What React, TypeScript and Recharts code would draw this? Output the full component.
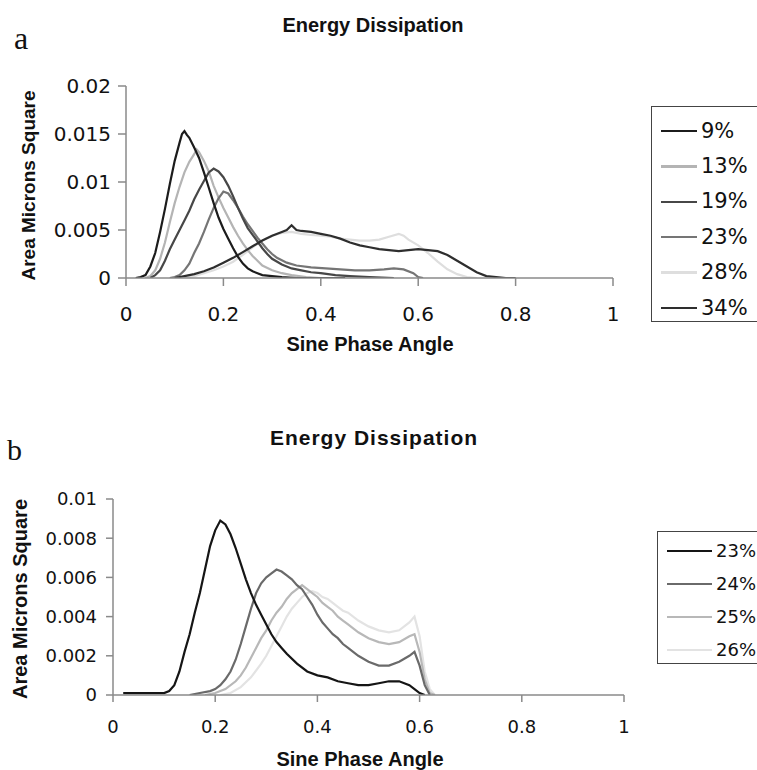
import React from 'react'
import { LineChart, Line, XAxis, YAxis } from 'recharts'

type Pt = [number, number]

// ---- panel a ----
const titleA = 'Energy Dissipation'
const xTicks = [0, 0.2, 0.4, 0.6, 0.8, 1]
const yTicksA = [0, 0.005, 0.01, 0.015, 0.02]

const a09: Pt[] = [
  [0.02, 0], [0.03, 0.0001], [0.04, 0.0003], [0.05, 0.0012], [0.06, 0.0026], [0.07, 0.0048],
  [0.08, 0.0072], [0.09, 0.0098], [0.10, 0.0122], [0.11, 0.0141], [0.115, 0.0150], [0.12, 0.0153],
  [0.125, 0.0149], [0.13, 0.0146], [0.14, 0.0136], [0.15, 0.0125], [0.16, 0.0110], [0.17, 0.0094],
  [0.18, 0.0078], [0.19, 0.0063], [0.20, 0.0051], [0.21, 0.0041], [0.22, 0.0031], [0.23, 0.0022],
  [0.24, 0.0015], [0.25, 0.0010], [0.26, 0.0007], [0.27, 0.0005], [0.28, 0.0003], [0.30, 0.0002],
  [0.32, 0.0001], [0.35, 0], [0.45, 0],
]
const a13: Pt[] = [
  [0.04, 0], [0.05, 0.0002], [0.06, 0.0008], [0.07, 0.0020], [0.08, 0.0037], [0.09, 0.0058],
  [0.10, 0.0078], [0.11, 0.0095], [0.12, 0.0110], [0.13, 0.0121], [0.14, 0.0129], [0.145, 0.0134],
  [0.15, 0.0131], [0.16, 0.0122], [0.17, 0.0111], [0.18, 0.0096], [0.19, 0.0084], [0.20, 0.0073],
  [0.21, 0.0063], [0.22, 0.0053], [0.23, 0.0044], [0.24, 0.0036], [0.25, 0.0029], [0.26, 0.0023],
  [0.27, 0.0018], [0.28, 0.0013], [0.30, 0.0008], [0.32, 0.0005], [0.34, 0.0003], [0.37, 0.0001],
  [0.40, 0],
]
const a19: Pt[] = [
  [0.05, 0], [0.06, 0.0003], [0.07, 0.0008], [0.08, 0.0018], [0.09, 0.0030], [0.10, 0.0040],
  [0.11, 0.0050], [0.12, 0.0060], [0.13, 0.0070], [0.14, 0.0082], [0.15, 0.0092], [0.16, 0.0101],
  [0.17, 0.0110], [0.18, 0.0114], [0.19, 0.0111], [0.20, 0.0105], [0.21, 0.0096], [0.22, 0.0085],
  [0.23, 0.0073], [0.24, 0.0062], [0.25, 0.0052], [0.26, 0.0045], [0.27, 0.0038], [0.28, 0.0031],
  [0.29, 0.0025], [0.30, 0.0020], [0.32, 0.0014], [0.34, 0.0010], [0.36, 0.0008], [0.38, 0.0006],
  [0.40, 0.0005], [0.43, 0.0003], [0.46, 0.0002], [0.50, 0.0001], [0.55, 0],
]
const a23: Pt[] = [
  [0.09, 0], [0.10, 0.0001], [0.11, 0.0003], [0.12, 0.0008], [0.13, 0.0015], [0.14, 0.0026],
  [0.15, 0.0036], [0.16, 0.0048], [0.17, 0.0061], [0.18, 0.0073], [0.19, 0.0083], [0.20, 0.0090],
  [0.21, 0.0088], [0.22, 0.0081], [0.23, 0.0073], [0.24, 0.0064], [0.25, 0.0056], [0.26, 0.0049],
  [0.27, 0.0042], [0.28, 0.0036], [0.29, 0.0030], [0.30, 0.0025], [0.31, 0.0021], [0.33, 0.0016],
  [0.35, 0.0013], [0.38, 0.0011], [0.41, 0.0010], [0.44, 0.0009], [0.47, 0.0008], [0.50, 0.0008],
  [0.53, 0.0009], [0.55, 0.0010], [0.57, 0.0009], [0.59, 0.0005], [0.60, 0.0001], [0.61, 0],
]
const a28: Pt[] = [
  [0.12, 0], [0.14, 0.0002], [0.16, 0.0005], [0.18, 0.0008], [0.20, 0.0012], [0.22, 0.0017],
  [0.24, 0.0024], [0.26, 0.0032], [0.28, 0.0039], [0.30, 0.0044], [0.32, 0.0047], [0.34, 0.0048],
  [0.36, 0.0046], [0.38, 0.0045], [0.40, 0.0044], [0.42, 0.0043], [0.44, 0.0041], [0.46, 0.0040],
  [0.48, 0.0039], [0.50, 0.0039], [0.52, 0.0040], [0.54, 0.0043], [0.56, 0.0046], [0.57, 0.0044],
  [0.58, 0.0040], [0.60, 0.0034], [0.62, 0.0026], [0.64, 0.0017], [0.66, 0.0009], [0.68, 0.0004],
  [0.70, 0.0001], [0.72, 0],
]
const a34: Pt[] = [
  [0.10, 0], [0.12, 0.0002], [0.14, 0.0004], [0.16, 0.0007], [0.18, 0.0011], [0.20, 0.0016],
  [0.22, 0.0021], [0.24, 0.0027], [0.26, 0.0033], [0.28, 0.0039], [0.30, 0.0044], [0.32, 0.0048],
  [0.33, 0.0050], [0.34, 0.0055], [0.35, 0.0050], [0.36, 0.0049], [0.38, 0.0048], [0.40, 0.0046],
  [0.42, 0.0044], [0.44, 0.0041], [0.46, 0.0037], [0.48, 0.0034], [0.50, 0.0032], [0.52, 0.0030],
  [0.54, 0.0029], [0.56, 0.0028], [0.58, 0.0029], [0.60, 0.0030], [0.62, 0.0029], [0.64, 0.0028],
  [0.66, 0.0024], [0.68, 0.0018], [0.70, 0.0012], [0.72, 0.0006], [0.74, 0.0002], [0.76, 0.0001],
  [0.78, 0], [0.80, 0],
]

// ---- panel b ----
const titleB = 'Energy Dissipation'
const yTicksB = [0, 0.002, 0.004, 0.006, 0.008, 0.01]

const b23: Pt[] = [
  [0.02, 0.0001], [0.05, 0.0001], [0.08, 0.0001], [0.10, 0.0001], [0.11, 0.0002], [0.12, 0.0005],
  [0.13, 0.0012], [0.14, 0.0022], [0.15, 0.0031], [0.16, 0.0042], [0.17, 0.0052], [0.18, 0.0064],
  [0.19, 0.0076], [0.20, 0.0084], [0.21, 0.0089], [0.22, 0.0087], [0.23, 0.0082], [0.24, 0.0075],
  [0.25, 0.0067], [0.26, 0.0059], [0.27, 0.0052], [0.28, 0.0046], [0.29, 0.0041], [0.30, 0.0036],
  [0.31, 0.0031], [0.32, 0.0027], [0.33, 0.0024], [0.34, 0.0021], [0.36, 0.0016], [0.38, 0.0012],
  [0.40, 0.0010], [0.42, 0.0009], [0.44, 0.0007], [0.46, 0.0006], [0.48, 0.0005], [0.50, 0.0005],
  [0.52, 0.0006], [0.54, 0.0007], [0.56, 0.0007], [0.58, 0.0005], [0.59, 0.0003], [0.60, 0.0001],
  [0.61, 0],
]
const b24: Pt[] = [
  [0.15, 0], [0.17, 0.0001], [0.19, 0.0002], [0.20, 0.0003], [0.21, 0.0005], [0.22, 0.0008],
  [0.23, 0.0012], [0.24, 0.0018], [0.25, 0.0026], [0.26, 0.0035], [0.27, 0.0044], [0.28, 0.0052],
  [0.29, 0.0057], [0.30, 0.0060], [0.31, 0.0062], [0.32, 0.0064], [0.33, 0.0063], [0.34, 0.0061],
  [0.35, 0.0059], [0.36, 0.0056], [0.37, 0.0054], [0.38, 0.0050], [0.39, 0.0046], [0.40, 0.0041],
  [0.41, 0.0037], [0.42, 0.0034], [0.43, 0.0031], [0.44, 0.0029], [0.45, 0.0026], [0.46, 0.0024],
  [0.48, 0.0020], [0.50, 0.0017], [0.52, 0.0015], [0.54, 0.0015], [0.56, 0.0017], [0.58, 0.0020],
  [0.59, 0.0022], [0.60, 0.0015], [0.61, 0.0005], [0.62, 0],
]
const b25: Pt[] = [
  [0.18, 0], [0.20, 0.0001], [0.22, 0.0003], [0.24, 0.0007], [0.25, 0.0010], [0.26, 0.0014],
  [0.27, 0.0019], [0.28, 0.0024], [0.29, 0.0029], [0.30, 0.0033], [0.31, 0.0038], [0.32, 0.0042],
  [0.33, 0.0045], [0.34, 0.0049], [0.35, 0.0052], [0.36, 0.0054], [0.37, 0.0056], [0.38, 0.0054],
  [0.39, 0.0052], [0.40, 0.0050], [0.41, 0.0047], [0.42, 0.0045], [0.43, 0.0043], [0.44, 0.0040],
  [0.45, 0.0038], [0.46, 0.0036], [0.48, 0.0032], [0.50, 0.0029], [0.52, 0.0027], [0.54, 0.0026],
  [0.56, 0.0027], [0.58, 0.0030], [0.59, 0.0031], [0.60, 0.0022], [0.61, 0.0008], [0.62, 0.0001],
  [0.63, 0],
]
const b26: Pt[] = [
  [0.21, 0], [0.23, 0.0001], [0.25, 0.0004], [0.27, 0.0009], [0.29, 0.0016], [0.30, 0.0020],
  [0.31, 0.0025], [0.32, 0.0030], [0.33, 0.0035], [0.34, 0.0040], [0.35, 0.0044], [0.36, 0.0047],
  [0.37, 0.0050], [0.38, 0.0052], [0.39, 0.0053], [0.40, 0.0052], [0.41, 0.0050], [0.42, 0.0049],
  [0.43, 0.0047], [0.44, 0.0045], [0.45, 0.0043], [0.46, 0.0042], [0.48, 0.0038], [0.50, 0.0035],
  [0.52, 0.0033], [0.54, 0.0032], [0.56, 0.0033], [0.58, 0.0037], [0.59, 0.0040], [0.60, 0.0030],
  [0.61, 0.0012], [0.62, 0.0003], [0.63, 0],
]

type Serie = { name: string; color: string; pts: Pt[]; z: number }

// z = drawing order (lighter ones drawn first)
const seriesA: Serie[] = [
  { name: '9%', color: '#1c1c1c', pts: a09, z: 5 },
  { name: '13%', color: '#b4b4b4', pts: a13, z: 1 },
  { name: '19%', color: '#474747', pts: a19, z: 3 },
  { name: '23%', color: '#757575', pts: a23, z: 2 },
  { name: '28%', color: '#dedede', pts: a28, z: 0 },
  { name: '34%', color: '#2e2e2e', pts: a34, z: 4 },
]
const seriesB: Serie[] = [
  { name: '23%', color: '#151515', pts: b23, z: 3 },
  { name: '24%', color: '#6a6a6a', pts: b24, z: 2 },
  { name: '25%', color: '#b8b8b8', pts: b25, z: 1 },
  { name: '26%', color: '#e3e3e3', pts: b26, z: 0 },
]

const TICK_FONT = '"DejaVu Sans", sans-serif'
const HEAD_FONT = '"Liberation Sans", Arial, sans-serif'
const AXIS = '#8a8a8a'

const toRows = (pts: Pt[]) => pts.map(([x, y]) => ({ x, y }))

type PanelProps = {
  top: number
  height: number
  margin: { top: number; right: number; bottom: number; left: number }
  yTicks: number[]
  yMax: number
  series: Serie[]
  fontSize: number
  tickSize: number
  yTickMargin: number
  xTickMargin: number
}

function Panel(p: PanelProps) {
  const ordered = [...p.series].sort((a, b) => a.z - b.z)
  return (
    <div style={{ position: 'absolute', left: 0, top: p.top }}>
      <LineChart width={757} height={p.height} margin={p.margin}>
        <XAxis
          type="number"
          dataKey="x"
          domain={[0, 1]}
          ticks={xTicks}
          interval={0}
          allowDataOverflow
          height={30}
          stroke={AXIS}
          strokeWidth={1.5}
          tickSize={p.tickSize}
          tickMargin={p.xTickMargin}
          tick={{ fill: '#111', fontSize: p.fontSize, fontFamily: TICK_FONT }}
        />
        <YAxis
          type="number"
          domain={[0, p.yMax]}
          ticks={p.yTicks}
          interval={0}
          allowDataOverflow
          width={70}
          stroke={AXIS}
          strokeWidth={1.5}
          tickSize={p.tickSize}
          tickMargin={p.yTickMargin}
          tickFormatter={(v: number) => String(v)}
          tick={{ fill: '#111', fontSize: p.fontSize, fontFamily: TICK_FONT }}
        />
        {ordered.map(s => (
          <Line
            key={s.name}
            data={toRows(s.pts)}
            dataKey="y"
            name={s.name}
            type="linear"
            stroke={s.color}
            strokeWidth={2.2}
            dot={false}
            activeDot={false}
            isAnimationActive={false}
          />
        ))}
      </LineChart>
    </div>
  )
}

function LegendBox({ series, left, top, width, height, rowH, firstY, lineW, fontSize }: {
  series: Serie[]; left: number; top: number; width: number; height: number
  rowH: number; firstY: number; lineW: number; fontSize: number
}) {
  return (
    <div style={{
      position: 'absolute', left, top, width, height, boxSizing: 'border-box',
      border: '1.5px solid #444', background: '#fff',
    }}>
      {series.map((s, i) => (
        <div key={s.name} style={{
          position: 'absolute', left: 9, top: firstY + i * rowH - fontSize / 2,
          height: fontSize, display: 'flex', alignItems: 'center',
          fontFamily: TICK_FONT, fontSize, lineHeight: 1, color: '#111', whiteSpace: 'nowrap',
        }}>
          <span style={{ display: 'inline-block', width: lineW, height: 2.5, background: s.color, marginRight: 4 }} />
          {s.name}
        </div>
      ))}
    </div>
  )
}

const abs = (s: React.CSSProperties): React.CSSProperties => ({ position: 'absolute', whiteSpace: 'nowrap', lineHeight: 1, ...s })

export default function App() {
  return (
    <div style={{ position: 'absolute', left: 0, top: 0, width: 757, height: 770, background: '#fff', overflow: 'hidden' }}>
      {/* panel a */}
      <div style={abs({ left: 14, top: 22, fontFamily: '"Liberation Serif", serif', fontSize: 32, color: '#111' })}>a</div>
      <div style={abs({ left: 223, width: 300, top: 15, textAlign: 'center', fontFamily: HEAD_FONT, fontWeight: 700, fontSize: 20, color: '#111' })}>
        {titleA}
      </div>
      <Panel
        top={0}
        height={360}
        margin={{ top: 86, right: 144, bottom: 52, left: 56 }}
        yTicks={yTicksA}
        yMax={0.02}
        series={seriesA}
        fontSize={20}
        tickSize={8}
        yTickMargin={7}
        xTickMargin={21}
      />
      <div style={abs({ left: 27.5 - 110, top: 185 - 9.5, width: 220, textAlign: 'center', transform: 'rotate(-90deg)', fontFamily: HEAD_FONT, fontWeight: 700, fontSize: 19, color: '#111' })}>
        Area Microns Square
      </div>
      <div style={abs({ left: 220, width: 300, top: 334, textAlign: 'center', fontFamily: HEAD_FONT, fontWeight: 700, fontSize: 20, color: '#111' })}>
        Sine Phase Angle
      </div>
      <LegendBox series={seriesA} left={651} top={106} width={107} height={216} rowH={35.4} firstY={24} lineW={36} fontSize={21} />

      {/* panel b */}
      <div style={abs({ left: 7, top: 435, fontFamily: '"Liberation Serif", serif', fontSize: 30, color: '#111' })}>b</div>
      <div style={abs({ left: 224, width: 300, top: 427, textAlign: 'center', fontFamily: HEAD_FONT, fontWeight: 700, fontSize: 21, letterSpacing: 1, color: '#111' })}>
        {titleB}
      </div>
      <Panel
        top={380}
        height={390}
        margin={{ top: 119, right: 133, bottom: 45, left: 43 }}
        yTicks={yTicksB}
        yMax={0.01}
        series={seriesB}
        fontSize={18}
        tickSize={7}
        yTickMargin={9}
        xTickMargin={18}
      />
      <div style={abs({ left: 20 - 110, top: 599 - 10, width: 220, textAlign: 'center', transform: 'rotate(-90deg)', fontFamily: HEAD_FONT, fontWeight: 700, fontSize: 20, color: '#111' })}>
        Area Microns Square
      </div>
      <div style={abs({ left: 210, width: 300, top: 749, textAlign: 'center', fontFamily: HEAD_FONT, fontWeight: 700, fontSize: 20, color: '#111' })}>
        Sine Phase Angle
      </div>
      <LegendBox series={seriesB} left={657} top={531} width={110} height={133} rowH={33} firstY={19} lineW={45} fontSize={18} />
    </div>
  )
}
